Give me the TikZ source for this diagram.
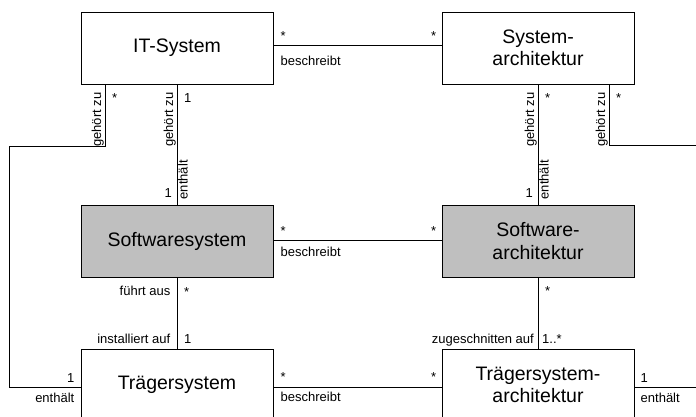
\documentclass[tikz,border=0pt]{standalone}
\usepackage{fontspec}
\setmainfont{Liberation Sans}
\usetikzlibrary{calc}

\begin{document}
\begin{tikzpicture}[x=1pt, y=-1pt,
    klasse/.style={draw, line width=1pt, minimum width=192pt, minimum height=72pt,
      inner sep=0pt, align=center, font=\fontsize{19.5}{22.5}\selectfont},
    swklasse/.style={klasse, fill=black!25},
    lbl/.style={inner sep=0pt, font=\fontsize{13}{15}\selectfont},
    rlbl/.style={lbl, rotate=90},
    assoc/.style={line width=.9pt}]
  \useasboundingbox (0,0) rectangle (696,416);

  % Klassen
  \node[klasse] (its) at (177,48) {IT-System};
  \node[klasse] (sa) at (538,48) {System-\\architektur};
  \node[swklasse] (sws) at (177,241) {Softwaresystem};
  \node[swklasse] (swa) at (538,241) {Software-\\architektur};
  \node[klasse] (ts) at (177,385) {Trägersystem};
  \node[klasse] (tsa) at (538,385) {Trägersystem-\\architektur};

  % freie Enden am Rand
  \coordinate (knickL) at (9,146);
  \coordinate (randO) at (696,145);
  \coordinate (randU) at (696,387);

  % Assoziationen
  \draw[assoc] ([yshift=3pt]its.east) -- ([yshift=3pt]sa.west);
  \draw[assoc] ([yshift=1pt]sws.east) -- ([yshift=1pt]swa.west);
  \draw[assoc] ([yshift=-2pt]ts.east) -- ([yshift=-2pt]tsa.west);
  \draw[assoc] (its.south) -- (sws.north);
  \draw[assoc] (sa.south) -- (swa.north);
  \draw[assoc] (sws.south) -- (ts.north);
  \draw[assoc] (swa.south) -- (tsa.north);
  \draw[assoc] ([xshift=-72pt]its.south) |- (knickL) |- ([yshift=-2pt]ts.west);
  \draw[assoc] ([xshift=71pt]sa.south) |- (randO);
  \draw[assoc] ([yshift=-2pt]tsa.east) -- (randU);

  % IT-System -- Systemarchitektur
  \node[lbl, anchor=base west] (m1a) at ($(its.east)+(7,-8)$) {*};
  \node[lbl, anchor=north west] (r1) at ($(its.east)+(7,8)$) {beschreibt};
  \node[lbl, anchor=base east] (m1b) at ($(sa.west)+(-5,-8)$) {*};

  % Softwaresystem -- Softwarearchitektur
  \node[lbl, anchor=base west] (m2a) at ($(sws.east)+(7,-6)$) {*};
  \node[lbl, anchor=north west] (r2) at ($(sws.east)+(7,6)$) {beschreibt};
  \node[lbl, anchor=base east] (m2b) at ($(swa.west)+(-5,-6)$) {*};

  % Traegersystem -- Traegersystemarchitektur
  \node[lbl, anchor=base west] (m3a) at ($(ts.east)+(7,-4)$) {*};
  \node[lbl, anchor=north west] (r3) at ($(ts.east)+(7,7)$) {beschreibt};
  \node[lbl, anchor=base east] (m3b) at ($(tsa.west)+(-5,-4)$) {*};

  % IT-System -- Softwaresystem
  \node[rlbl, anchor=south east] (r4a) at ($(its.south)+(-1,8)$) {gehört zu};
  \node[lbl, anchor=north west] (m4a) at ($(its.south)+(7,9)$) {1};
  \node[lbl, anchor=base east] (m4b) at ($(sws.north)+(-5,-7)$) {1};
  \node[rlbl, anchor=north west] (r4b) at ($(sws.north)+(1,-5)$) {enthält};

  % IT-System -- Traegersystem
  \node[rlbl, anchor=south east] (r5a) at ($(its.south)+(-73,8)$) {gehört zu};
  \node[lbl, anchor=north west] (m5a) at ($(its.south)+(-65,9)$) {*};
  \node[lbl, anchor=base east] (m5b) at ($(ts.west)+(-6,-3)$) {1};
  \node[lbl, anchor=north east] (r5b) at ($(ts.west)+(-6,8)$) {enthält};

  % Systemarchitektur -- Softwarearchitektur
  \node[rlbl, anchor=south east] (r6a) at ($(sa.south)+(-1,8)$) {gehört zu};
  \node[lbl, anchor=north west] (m6a) at ($(sa.south)+(7,9)$) {*};
  \node[lbl, anchor=base east] (m6b) at ($(swa.north)+(-5,-7)$) {1};
  \node[rlbl, anchor=north west] (r6b) at ($(swa.north)+(1,-5)$) {enthält};

  % Systemarchitektur -- rechts
  \node[rlbl, anchor=south east] (r7a) at ($(sa.south)+(70,8)$) {gehört zu};
  \node[lbl, anchor=north west] (m7a) at ($(sa.south)+(78,9)$) {*};

  % Softwaresystem -- Traegersystem
  \node[lbl, anchor=north east] (r8a) at ($(sws.south)+(-6.5,8)$) {führt aus};
  \node[lbl, anchor=north west] (m8a) at ($(sws.south)+(7,10)$) {*};
  \node[lbl, anchor=base east] (r8b) at ($(ts.north)+(-6.5,-5)$) {installiert auf};
  \node[lbl, anchor=base west] (m8b) at ($(ts.north)+(7,-5)$) {1};

  % Softwarearchitektur -- Traegersystemarchitektur
  \node[lbl, anchor=north west] (m9a) at ($(swa.south)+(7,9)$) {*};
  \node[lbl, anchor=base east] (r9b) at ($(tsa.north)+(-4,-5)$) {zugeschnitten auf};
  \node[lbl, anchor=base west] (m9b) at ($(tsa.north)+(4,-5)$) {1..*};

  % Traegersystemarchitektur -- rechts
  \node[lbl, anchor=base west] (m10a) at ($(tsa.east)+(6,-3)$) {1};
  \node[lbl, anchor=north west] (r10a) at ($(tsa.east)+(6,8)$) {enthält};
\end{tikzpicture}
\end{document}
